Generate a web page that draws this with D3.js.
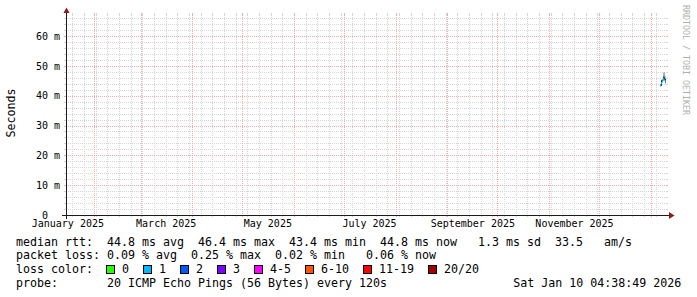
<!DOCTYPE html>
<html><head><meta charset="utf-8">
<script src="https://cdn.jsdelivr.net/npm/d3@7"></script>
<style>
html,body{margin:0;padding:0;background:#fff;}
svg{display:block;}
text{font-family:"DejaVu Sans Mono",monospace;white-space:pre;}
</style></head><body>
<svg id="c" width="697" height="297"></svg>
<script>
// ---------- data ----------
const endTime = "2026-01-10T04:38:49Z";
const spanDays = 360;
const yMax = 67.05;
const yTickValues = [0, 10, 20, 30, 40, 50, 60];
const yTickLabels = ["0  ", "10 m", "20 m", "30 m", "40 m", "50 m", "60 m"];
const monthLabels = ["January 2025", "March 2025", "May 2025", "July 2025", "September 2025", "November 2025"];
const monthLabelDates = ["2025-01-16", "2025-03-16", "2025-05-16", "2025-07-16", "2025-09-16", "2025-11-16"];

const sampleTimes = ["2026-01-06T14:14:49Z", "2026-01-07T04:38:49Z", "2026-01-07T19:02:49Z",
                     "2026-01-08T09:26:49Z", "2026-01-08T23:50:49Z", "2026-01-09T14:14:49Z"];
const sampleStepHours = 14.4;
const medianMs   = [43.4, 44.2, 44.9, 45.6, 46.4, 44.8];
const smokeLow   = [43.2, 43.3, 44.3, 44.9, 44.9, 44.0];
const smokeHigh  = [43.9, 45.4, 45.6, 47.8, 47.9, 46.5];
const innerLow   = [43.3, 43.3, 44.6, 45.2, 45.4, 44.4];
const innerHigh  = [43.7, 45.2, 45.2, 46.4, 46.6, 45.6];
const lossPct    = [0.05, 0.10, 0.25, 0.02, 0.06, 0.06];
const pingsPerProbe = 20;

const lossLabels = ["0", "1", "2", "3", "4-5", "6-10", "11-19", "20/20"];
const lossUpper  = [0, 1, 2, 3, 5, 10, 19, 20];
const lossColors = ["#26ff00", "#00b8ff", "#0059ff", "#7e00ff", "#ff00ff", "#ff5500", "#ff0000", "#a00000"];

const rttStats  = [44.8, 46.4, 43.4, 44.8, 1.3];  // avg max min now sd
const rttAmS    = 33.5;
const lossStats = [0.09, 0.25, 0.02, 0.06];        // avg max min now
const probeText = "20 ICMP Echo Pings (56 Bytes) every 120s";
const stampText = "Sat Jan 10 04:38:49 2026";

// ---------- layout ----------
const svg = d3.select("#c");
const X0 = 66, X1 = 666, Y0 = 215, Y1 = 15;
const endDate = new Date(endTime);
const startDate = new Date(+endDate - spanDays * 86400e3);
const x = d3.scaleUtc().domain([startDate, endDate]).range([X0, X1]);
const y = d3.scaleLinear().domain([0, yMax]).range([Y0, Y1]);

const GRID = "#d6d6d6", MGRID = "#efafaf";
const px = v => Math.round(v) + 0.5;

const g = svg.append("g");
const hMinor = d3.range(2, yMax, 2).filter(v => v % 10 !== 0);
function hLine(v, col) {
  const yy = px(y(v));
  g.append("line").attr("x1", X0 - 2).attr("x2", X1 + 2).attr("y1", yy).attr("y2", yy)
    .attr("stroke", col).attr("stroke-dasharray", "1,1");
  g.append("line").attr("x1", X0 - 2).attr("x2", X0).attr("y1", yy).attr("y2", yy).attr("stroke", col);
  g.append("line").attr("x1", X1).attr("x2", X1 + 2).attr("y1", yy).attr("y2", yy).attr("stroke", col);
}
function vLine(t, col) {
  const xx = px(x(t));
  g.append("line").attr("y1", Y1 - 2).attr("y2", Y0 + 2).attr("x1", xx).attr("x2", xx)
    .attr("stroke", col).attr("stroke-dasharray", "1,1");
  g.append("line").attr("y1", Y1 - 2).attr("y2", Y1).attr("x1", xx).attr("x2", xx).attr("stroke", col);
  g.append("line").attr("y1", Y0).attr("y2", Y0 + 2).attr("x1", xx).attr("x2", xx).attr("stroke", col);
}
hMinor.forEach(v => hLine(v, GRID));
d3.utcSunday.range(startDate, endDate).forEach(t => vLine(t, GRID));
yTickValues.filter(v => v > 0).forEach(v => hLine(v, MGRID));
d3.utcMonth.range(startDate, endDate).forEach(t => vLine(t, MGRID));

// ---------- data marks ----------
const times = sampleTimes.map(s => new Date(s));
const stepMs = sampleStepHours * 3600e3;
const colW = t => Math.max(1, x(new Date(+t + stepMs)) - x(t));
const marks = svg.append("g");
times.forEach((t, i) => {
  marks.append("rect").attr("x", x(t)).attr("width", colW(t))
    .attr("y", y(smokeHigh[i])).attr("height", y(smokeLow[i]) - y(smokeHigh[i])).attr("fill", "#b0b0b0");
  marks.append("rect").attr("x", x(t)).attr("width", colW(t))
    .attr("y", y(innerHigh[i])).attr("height", y(innerLow[i]) - y(innerHigh[i])).attr("fill", "#303030");
  const lossCount = lossPct[i] / 100 * pingsPerProbe;
  const ci = lossUpper.findIndex(u => lossCount <= u);
  marks.append("rect").attr("x", x(t)).attr("width", colW(t))
    .attr("y", y(medianMs[i]) - 1).attr("height", 2).attr("fill", lossColors[ci]);
});

// ---------- axes ----------
const AX = "#1a1a1a", ARROW = "#8b1a1a";
const yAxis = d3.axisLeft(y).tickValues(yTickValues).tickFormat((d, i) => yTickLabels[i]).tickSize(0).tickPadding(6);
const ya = svg.append("g").attr("transform", `translate(${X0},0)`).call(yAxis);
ya.select(".domain").remove();
ya.selectAll("text").attr("font-family", "DejaVu Sans Mono").attr("font-size", "10px").attr("fill", "#000")
  .attr("xml:space", "preserve");

const xAxis = d3.axisBottom(x).tickValues(monthLabelDates.map(d => new Date(d + "T00:00:00Z")))
  .tickFormat((d, i) => monthLabels[i]).tickSize(0).tickPadding(5);
const xa = svg.append("g").attr("transform", `translate(0,${Y0})`).call(xAxis);
xa.select(".domain").remove();
xa.selectAll("text").attr("font-family", "DejaVu Sans Mono").attr("font-size", "10px").attr("fill", "#000");

svg.append("line").attr("x1", X0 - 4).attr("x2", X1 + 4).attr("y1", Y0 + 0.5).attr("y2", Y0 + 0.5).attr("stroke", AX);
svg.append("line").attr("x1", X0 + 0.5).attr("x2", X0 + 0.5).attr("y1", Y0 + 4).attr("y2", Y1 - 3).attr("stroke", AX);
svg.append("path").attr("d", `M${X1 + 3},${Y0 - 3}L${X1 + 3},${Y0 + 4}L${X1 + 8.5},${Y0 + 0.5}Z`).attr("fill", ARROW);
svg.append("path").attr("d", `M${X0 - 2.5},${Y1 - 2}L${X0 + 3.5},${Y1 - 2}L${X0 + 0.5},${Y1 - 7.5}Z`).attr("fill", ARROW);

svg.append("text").attr("transform", `translate(15,113) rotate(-90)`).attr("text-anchor", "middle")
  .attr("font-size", "11.63px").attr("fill", "#000").text("Seconds");
svg.append("text").attr("transform", `translate(683,5) rotate(90)`)
  .attr("font-size", "8.3px").attr("fill", "#b0b0b0").text("RRDTOOL / TOBI OETIKER");

// ---------- legend ----------
const LX = 16, LY = 245.8, LH = 13.65, CW = 7.003;
const f1 = v => v.toFixed(1), f2 = v => v.toFixed(2);
const line1 = `median rtt:  ${f1(rttStats[0])} ms avg  ${f1(rttStats[1])} ms max  ${f1(rttStats[2])} ms min  ${f1(rttStats[3])} ms now  ${f1(rttStats[4]).padStart(4)} ms sd  ${f1(rttAmS)}   am/s`;
const line2 = `packet loss: ${f2(lossStats[0])} % avg  ${f2(lossStats[1])} % max  ${f2(lossStats[2])} % min   ${f2(lossStats[3])} % now`;
const line4 = `probe:       ${probeText}`;
const leg = svg.append("g").attr("font-size", "11.63px").attr("fill", "#000");
leg.append("text").attr("x", LX).attr("y", LY).attr("xml:space", "preserve").text(line1);
leg.append("text").attr("x", LX).attr("y", LY + LH).attr("xml:space", "preserve").text(line2);
leg.append("text").attr("x", LX).attr("y", LY + 2 * LH).text("loss color:");
leg.append("text").attr("x", LX).attr("y", LY + 3 * LH).attr("xml:space", "preserve").text(line4);
leg.append("text").attr("x", LX + 95 * CW).attr("y", LY + 3 * LH).attr("text-anchor", "end").text(stampText);
let bx = LX + 13 * CW - 1;
lossLabels.forEach((lab, i) => {
  leg.append("rect").attr("x", Math.round(bx) + 0.5).attr("y", 265.5).attr("width", 8).attr("height", 8)
    .attr("fill", lossColors[i]).attr("stroke", "#000");
  const tx = bx + 16;
  leg.append("text").attr("x", tx).attr("y", LY + 2 * LH).text(lab);
  bx = tx + lab.length * CW + 14;
});
</script>
</body></html>
